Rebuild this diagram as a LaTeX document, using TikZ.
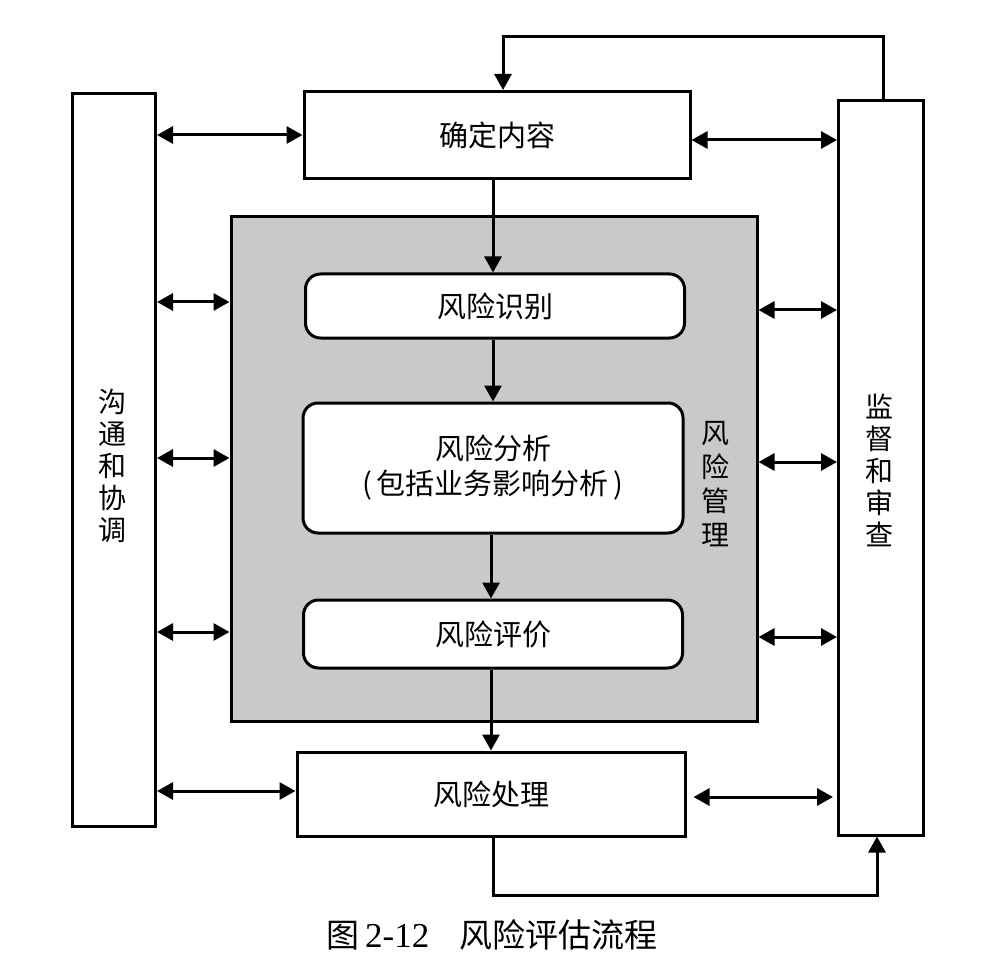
\documentclass[tikz,border=0pt]{standalone}
\usepackage{fontspec}
\setmainfont{Liberation Serif}
\newfontfamily\cjk{Noto Sans CJK SC}
\usetikzlibrary{arrows.meta,calc}
\begin{document}
\begin{tikzpicture}[x=1pt,y=-1pt,
  box/.style={draw=black,line width=3pt,fill=white,inner sep=0pt,font=\cjk\fontsize{29}{35}\selectfont,align=center},
  rbox/.style={box,rounded corners=15pt},
  tall/.style={box},
  vtext/.style={inner sep=0pt,font=\cjk\fontsize{28}{32}\selectfont,align=center},
  arr/.style={line width=3pt,-{Triangle[length=16pt,width=17pt]}},
  dbl/.style={line width=3pt,{Triangle[length=16pt,width=17pt]}-{Triangle[length=16pt,width=17pt]}}]
\useasboundingbox[fill=white] (0,0) rectangle (1003,973);
% outer boxes
\node[tall,minimum width=83pt,minimum height=733pt] (comm) at (114,460) {};
\node[vtext] (commt) at (112,466) {沟\\通\\和\\协\\调};
\node[tall,minimum width=85pt,minimum height=734pt] (mon) at (881,468) {};
\node[vtext] (mont) at (879,470) {监\\督\\和\\审\\查};
% gray area
\node[draw=black,line width=3pt,fill=gray!42,minimum width=526pt,minimum height=504pt,inner sep=0pt] (mgmt) at (494,469) {};
\node[vtext,font=\cjk\fontsize{28}{34}\selectfont] (mgmtt) at (715,484) {风\\险\\管\\理};
% process boxes
\node[box,minimum width=386pt,minimum height=87pt] (def) at (497,135) {确定内容};
\node[rbox,minimum width=379pt,minimum height=64pt] (ident) at (495,306) {风险识别};
\node[rbox,minimum width=380pt,minimum height=130pt] (anal) at (493,468) {风险分析\\(\,包括业务影响分析\,)};
\node[rbox,minimum width=379pt,minimum height=68pt] (eval) at (493,634) {风险评价};
\node[box,minimum width=388pt,minimum height=84pt] (treat) at (491,794) {风险处理};
% vertical flow
\draw[arr] (def.south -| 493,0) -- (ident.north -| 493,0);
\draw[arr] (ident.south -| 493,0) -- (anal.north -| 493,0);
\draw[arr] (anal.south -| 491,0) -- (eval.north -| 491,0);
\draw[arr] (eval.south -| 491,0) -- (treat.north -| 491,0);
% left double arrows
\draw[dbl] (comm.east |- 0,135) -- (def.west |- 0,135);
\draw[dbl] (comm.east |- 0,302) -- (mgmt.west |- 0,302);
\draw[dbl] (comm.east |- 0,458) -- (mgmt.west |- 0,458);
\draw[dbl] (comm.east |- 0,632) -- (mgmt.west |- 0,632);
\draw[dbl] (comm.east |- 0,791) -- (treat.west |- 0,791);
% right double arrows
\draw[dbl] (def.east |- 0,140) -- (mon.west |- 0,140);
\draw[dbl] (mgmt.east |- 0,310) -- (mon.west |- 0,310);
\draw[dbl] (mgmt.east |- 0,462) -- (mon.west |- 0,462);
\draw[dbl] (mgmt.east |- 0,637) -- (mon.west |- 0,637);
\draw[dbl,shorten <=7pt,shorten >=4pt] (treat.east |- 0,797) -- (mon.west |- 0,797);
% feedback loops
\coordinate (fbtop) at (700,37);
\coordinate (fbbot) at (700,895);
\draw[arr] ([xshift=2pt]mon.north) |- (fbtop) -| ([xshift=6pt]def.north);
\draw[arr] ([xshift=2pt]treat.south) |- (fbbot) -| ([xshift=-4pt]mon.south);
% caption
\node[inner sep=0pt,anchor=west] (cap) at (326,935) {{\cjk\fontsize{33}{36}\selectfont 图}\hspace{6pt}{\fontsize{35}{36}\selectfont 2-12}\hspace{30pt}{\cjk\fontsize{33}{36}\selectfont 风险评估流程}};
\end{tikzpicture}
\end{document}
